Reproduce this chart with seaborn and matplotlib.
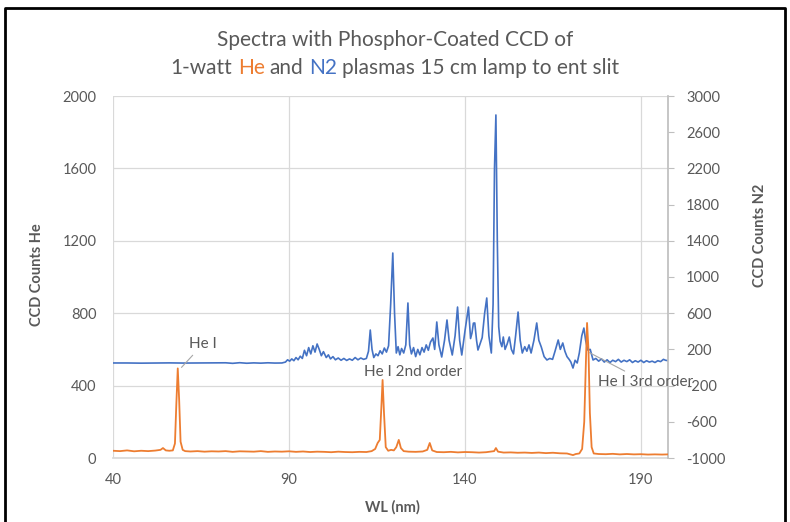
import matplotlib
matplotlib.use("Agg")
import pandas as pd
import matplotlib.pyplot as plt
import seaborn as sns

# N2 spectrum (secondary axis)
n2_wl = [40, 44, 48, 52, 56, 60, 64, 68, 72, 74, 76, 78, 80, 82, 84, 86, 88, 89.0,
         89.6, 90.2, 90.8, 91.4, 92.0, 92.6, 93.2, 93.8, 94.4, 95.0, 95.6, 96.2, 96.8,
         97.4, 98.0, 98.6, 99.2, 99.8, 100.6, 101.2, 101.8, 102.5, 103.2, 104.0, 104.8,
         105.6, 106.4, 107.2, 108.0, 108.8, 109.6, 110.4, 111.2, 112.0, 112.6, 113.1,
         113.6, 114.1, 114.7, 115.3, 115.9, 116.5, 117.1, 117.7, 118.3, 118.9, 119.5,
         120.0, 120.5, 121.0, 121.5, 122.0, 122.6, 123.2, 123.8, 124.3, 124.8, 125.4,
         126.0, 126.6, 127.2, 127.8, 128.4, 129.0, 129.6, 130.2, 130.9, 131.4, 132.0,
         132.6, 133.4, 134.2, 134.9, 135.5, 136.4, 137.2, 137.9, 138.5, 139.1, 140.0,
         141.0, 141.6, 142.0, 142.4, 142.8, 143.3, 143.7, 144.3, 144.9, 145.6, 146.2,
         146.8, 147.5, 148.0, 148.4, 148.8, 149.2, 149.6, 150.0, 150.5, 150.9, 151.4,
         152.0, 152.6, 153.2, 153.8, 154.4, 155.1, 155.7, 156.3, 157.0, 157.6, 158.2,
         158.8, 159.6, 160.4, 161.0, 161.7, 162.5, 163.3, 164.1, 164.9, 165.6, 166.5,
         167.1, 167.8, 168.4, 169.0, 169.6, 170.1, 170.7, 171.3, 171.9, 172.5, 173.2,
         173.8, 174.3, 174.9, 175.6, 176.4, 177.2, 178.0, 178.8, 179.6, 180.4, 181.2,
         182.0, 182.8, 183.6, 184.4, 185.2, 186.0, 186.8, 187.6, 188.4, 189.2, 190.0,
         190.8, 191.6, 192.4, 193.2, 194.0, 194.8, 195.6, 196.4, 197.0, 197.7]
n2_counts = [50, 50, 48, 50, 51, 49, 50, 50, 52, 46, 53, 47, 51, 48, 52, 49, 50, 60,
             85, 70, 95, 75, 110, 85, 125, 100, 190, 130, 220, 150, 240,
             170, 260, 200, 130, 175, 110, 140, 95, 120, 85, 105, 80,
             100, 78, 95, 80, 110, 85, 105, 90, 100, 180, 414,
             200, 110, 150, 130, 185, 150, 215, 170, 240, 700, 1265,
             600, 160, 230, 140, 210, 160, 250, 713, 250, 150, 220,
             120, 200, 140, 220, 170, 250, 190, 280, 326, 200, 503,
             250, 116, 300, 525, 300, 138, 350, 668, 300, 138, 400,
             668, 320, 381, 490, 492, 300, 193, 260, 330, 600, 768,
             350, 160, 700, 2200, 2790, 1400, 450, 290, 230, 337, 200,
             260, 337, 200, 150, 350, 613, 300, 160, 230, 180, 250,
             160, 300, 492, 300, 226, 120, 83, 100, 90, 180, 304,
             200, 271, 180, 120, 90, 60, -6, 80, 50, 160, 350,
             436, 300, 193, 200, 83, 100, 70, 95, 60, 85, 55,
             80, 65, 90, 60, 80, 65, 85, 55, 75, 60, 80,
             55, 75, 60, 70, 55, 75, 65, 90, 80, 75]

# He spectrum (primary axis)
he_wl = [40, 42, 44, 46, 48, 50, 52, 53.5, 54.2, 55, 56, 57.0, 57.6, 58.0, 58.4, 58.8,
         59.2, 59.8, 60.5, 62, 64, 66, 68, 70, 72, 74, 76, 78, 80, 82, 84, 86, 88, 90,
         92, 94, 96, 98, 100, 102, 104, 106, 108, 110, 112, 113.5, 114.5, 115.2, 115.8,
         116.3, 116.6, 117.0, 117.5, 118.2, 119.0, 119.8, 120.5, 121.2, 121.8, 122.6,
         124, 126, 128, 129.3, 130.0, 130.7, 132, 134, 136, 138, 140, 142, 144, 146,
         148.3, 148.8, 149.4, 151, 153, 155, 157, 159, 161, 163, 165, 167, 169, 170.7,
         171.5, 172.5, 173.3, 173.9, 174.4, 174.7, 175.1, 175.5, 176.0, 176.6, 178, 180,
         182, 184, 186, 188, 190, 192, 194, 196, 197.7]
he_counts = [40, 38, 42, 37, 40, 38, 41, 45, 55, 42, 40, 42, 80, 300, 495, 320,
             90, 45, 38, 36, 38, 35, 37, 36, 38, 34, 37, 36, 35, 38, 34, 36, 35, 37,
             34, 36, 33, 35, 34, 32, 35, 33, 32, 34, 33, 38, 50, 83, 100,
             300, 431, 250, 60, 40, 45, 42, 60, 100, 55, 38,
             35, 34, 36, 45, 83, 42, 33, 32, 34, 31, 33, 32, 30, 32,
             38, 55, 35, 30, 31, 29, 30, 28, 30, 27, 29, 26, 25, 16,
             22, 25, 50, 200, 550, 746, 600, 250, 60, 25, 22, 21,
             23, 20, 22, 20, 21, 19, 20, 19, 20]

x_ticks = [40, 90, 140, 190]
he_ticks = [0, 400, 800, 1200, 1600, 2000]
n2_ticks = [-1000, -600, -200, 200, 600, 1000, 1400, 1800, 2200, 2600, 3000]
labels = ["He I", "He I 2nd order", "He I 3rd order"]

BLUE = "#4472C4"
ORANGE = "#ED7D31"
GREY = "#595959"

sns.set_theme(style="white")
plt.rcParams["font.family"] = ["Lato", "DejaVu Sans"]
plt.rcParams["axes.unicode_minus"] = False

n2_df = pd.DataFrame({"wl": n2_wl, "counts": n2_counts})
he_df = pd.DataFrame({"wl": he_wl, "counts": he_counts})

fig = plt.figure(figsize=(7.9, 5.22), dpi=100)
ax = fig.add_axes([113 / 790, 64 / 522, 555 / 790, 362 / 522])
ax2 = ax.twinx()
ax3 = ax.twinx()

sns.lineplot(data=n2_df, x="wl", y="counts", ax=ax2, color=BLUE, linewidth=1.2,
             estimator=None, sort=False)
sns.lineplot(data=he_df, x="wl", y="counts", ax=ax3, color=ORANGE, linewidth=1.3,
             estimator=None, sort=False)

ax.set_xlim(40, 197.7)
ax.set_ylim(0, 2000)
ax2.set_ylim(-1000, 3000)
ax3.set_ylim(0, 2000)
ax.set_xticks(x_ticks)
ax.set_yticks(he_ticks)
ax2.set_yticks(n2_ticks)
ax3.set_yticks([])
ax3.set_ylabel("")
ax2.set_ylabel("")

ax.grid(True, color="#d9d9d9", linewidth=0.9)
for s in ax.spines.values():
    s.set_visible(False)
ax.spines["bottom"].set_visible(True)
ax.spines["bottom"].set_color("#d9d9d9")
for s in ax2.spines.values():
    s.set_visible(False)
ax2.spines["right"].set_visible(True)
ax2.spines["right"].set_color("#bfbfbf")
for s in ax3.spines.values():
    s.set_visible(False)

ax.tick_params(axis="both", length=0, labelcolor=GREY, labelsize=10.5)
ax.tick_params(axis="y", pad=12)
ax.tick_params(axis="x", pad=11)
ax2.tick_params(axis="y", length=4, width=0.8, color="#bfbfbf", direction="out",
                labelcolor=GREY, labelsize=10.5, pad=9)

ax.set_xlabel("")
ax.set_ylabel("")
fig.text(392 / 790, 1 - 507 / 522, "WL (nm)", ha="center", va="center",
         fontsize=10.5, fontweight="bold", color=GREY)
fig.text(37 / 790, 1 - 275 / 522, "CCD Counts He", ha="center", va="center",
         rotation=90, fontsize=10.5, fontweight="bold", color=GREY)
fig.text(760 / 790, 1 - 235 / 522, "CCD Counts N2", ha="center", va="center",
         rotation=90, fontsize=10.5, fontweight="bold", color=GREY)

# annotations
ax3.annotate(labels[0], xy=(59.2, 495), xytext=(65.6, 630), ha="center", va="center",
             fontsize=11, color=GREY,
             arrowprops=dict(arrowstyle="-", color="#a6a6a6", lw=0.8, shrinkA=1, shrinkB=1))
ax3.annotate(labels[1], xy=(111.3, 475), ha="left", va="center", fontsize=11, color=GREY)
ax3.annotate(labels[2], xy=(175.0, 586), xytext=(177.8, 420), ha="left", va="center",
             fontsize=11, color=GREY, annotation_clip=False,
             arrowprops=dict(arrowstyle="-", color="#a6a6a6", lw=0.8, shrinkA=1, shrinkB=1))

# title
fig.text(0.5, 1 - 40 / 522, "Spectra with Phosphor-Coated CCD of", ha="center",
         va="center", fontsize=15, color=GREY)
renderer = fig.canvas.get_renderer()
pieces = [("1-watt ", GREY), ("He", ORANGE), (" and ", GREY), ("N2", BLUE),
          (" plasmas 15 cm lamp to ent slit", GREY)]


def text_width(s):
    t = fig.text(0, 0, s, fontsize=15)
    w = t.get_window_extent(renderer).width
    t.remove()
    return w


bar_w = text_width("||")
full = "".join(p for p, _ in pieces)
x_start = 395 - (text_width("|" + full + "|") - bar_w) / 2
prefix = ""
for s, c in pieces:
    lead = len(s) - len(s.lstrip(" "))
    before = prefix + s[:lead]
    off = text_width("|" + before + "|") - bar_w
    fig.text((x_start + off) / 790, 1 - 68 / 522, s.strip(" "),
             ha="left", va="center", fontsize=15, color=c)
    prefix += s

# outer frame
fig.add_artist(plt.Line2D([5 / 790, 5 / 790, 785 / 790, 785 / 790],
                          [-0.05, 1 - 8 / 522, 1 - 8 / 522, -0.05],
                          transform=fig.transFigure, color="black", linewidth=2))

fig.savefig("out.png", dpi=100)
